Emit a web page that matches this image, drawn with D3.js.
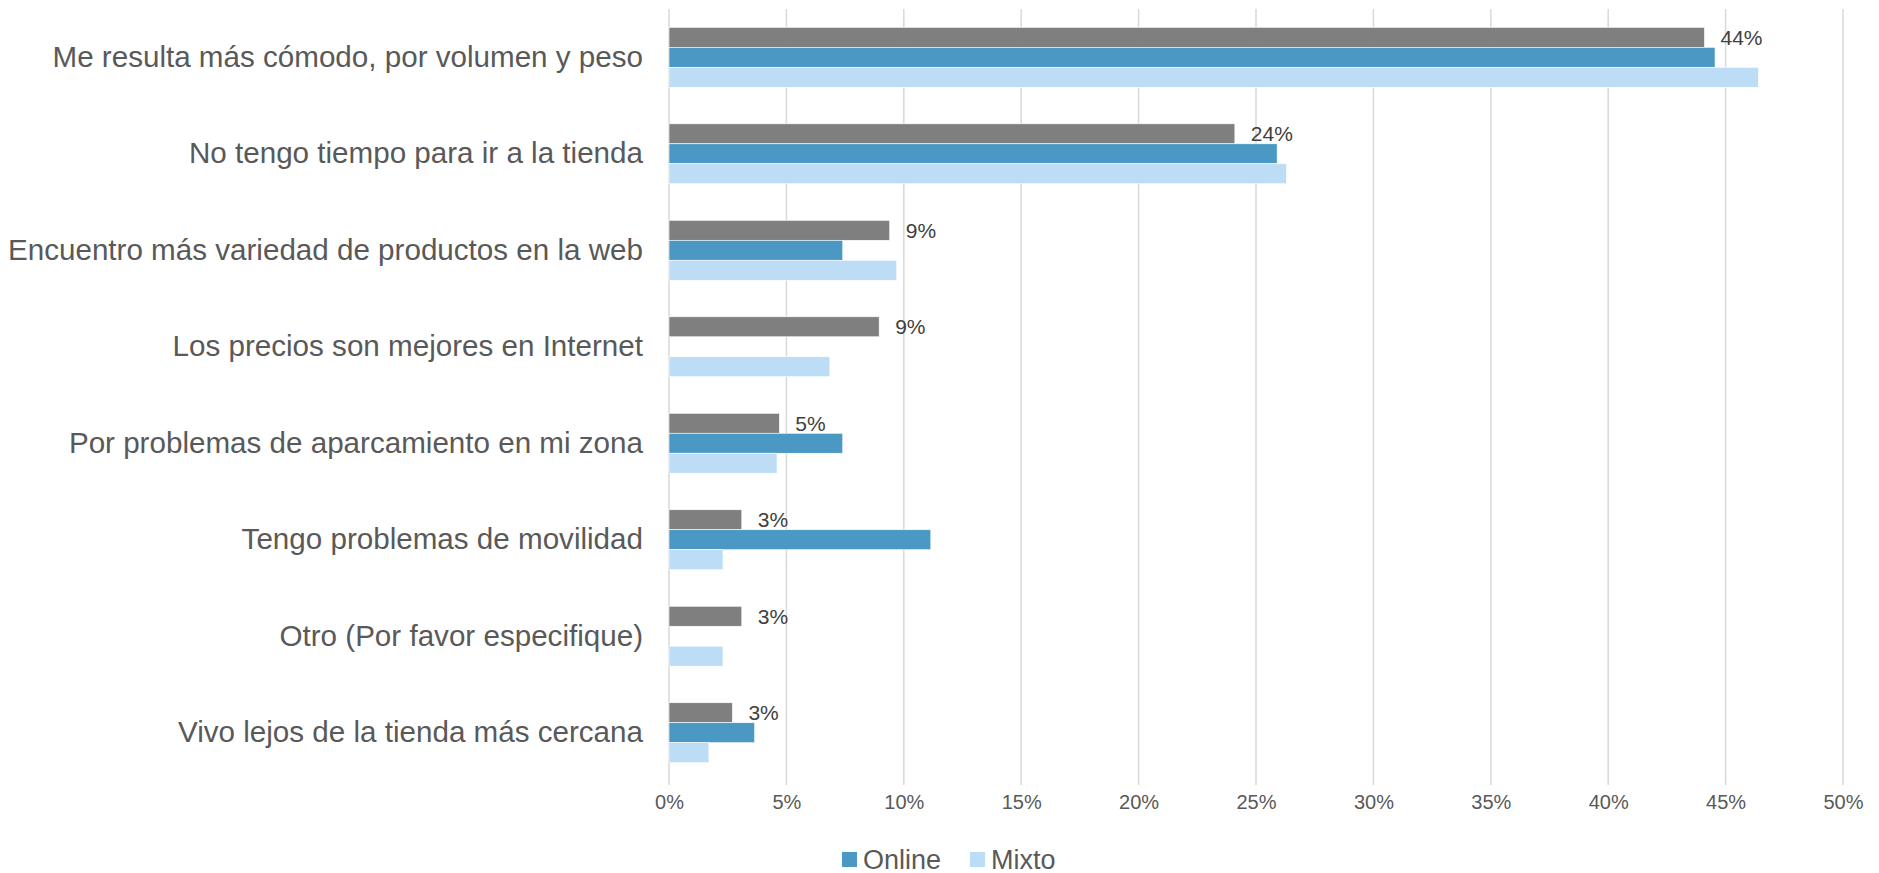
<!DOCTYPE html>
<html>
<head>
<meta charset="utf-8">
<script src="https://cdn.jsdelivr.net/npm/d3@7"></script>
<style>
  html, body { margin: 0; padding: 0; background: #fff; overflow: hidden; }
  svg { display: block; font-family: "Liberation Sans", Arial, sans-serif; }
</style>
</head>
<body>
<svg></svg>
<script>
// data (percent)
var categories = [
    "Me resulta más cómodo, por volumen y peso",
    "No tengo tiempo para ir a la tienda",
    "Encuentro más variedad de productos en la web",
    "Los precios son mejores en Internet",
    "Por problemas de aparcamiento en mi zona",
    "Tengo problemas de movilidad",
    "Otro (Por favor especifique)",
    "Vivo lejos de la tienda más cercana"
];
var total  = [44.1, 24.1, 9.4, 8.95, 4.7, 3.1, 3.1, 2.7];
var online = [44.55, 25.9, 7.4, 0, 7.4, 11.15, 0, 3.65];
var mixto  = [46.4, 26.3, 9.7, 6.85, 4.6, 2.3, 2.3, 1.7];
var xTicks = [0, 5, 10, 15, 20, 25, 30, 35, 40, 45, 50];

var seriesKeys = ["total", "online", "mixto"];
var seriesColors = { total: "#7f7f7f", online: "#4a98c3", mixto: "#bcddf5" };
var legendItems = [{ key: "online", name: "Online" }, { key: "mixto", name: "Mixto" }];

var width = 1879;
var height = 873;
var margin = { top: 9, right: 36, bottom: 92, left: 669 };
var innerWidth = width - margin.left - margin.right;
var innerHeight = height - margin.top - margin.bottom;

var rows = categories.map(function (c, i) {
    return { name: c, total: total[i], online: online[i], mixto: mixto[i] };
});

var svg = d3.select('svg')
    .attr('width', width)
    .attr('height', height);

var g = svg.append('g')
    .attr('transform', `translate(${margin.left},${margin.top})`);

var x = d3.scaleLinear().domain([0, 50]).range([0, 1174]);

var y0 = d3.scaleBand()
    .domain(categories)
    .range([0, innerHeight])
    .paddingInner(0.379)
    .paddingOuter(0.19);

var y1 = d3.scaleBand()
    .domain(seriesKeys)
    .range([0, y0.bandwidth()]);

// gridlines
g.append('g')
    .selectAll('line').data(xTicks)
    .enter().append('line')
    .attr('x1', d => x(d)).attr('x2', d => x(d))
    .attr('y1', 0).attr('y2', innerHeight + 4)
    .attr('stroke', '#d9d9d9')
    .attr('stroke-width', 1.5);

// x axis labels
var xAxis = d3.axisBottom(x)
    .tickValues(xTicks)
    .tickFormat(d => d + '%')
    .tickSize(0)
    .tickPadding(14);

var ax = g.append('g')
    .attr('transform', `translate(0,${innerHeight})`)
    .call(xAxis);
ax.select('.domain').remove();
ax.selectAll('text')
    .attr('fill', '#595959')
    .style('font-size', '20px');

// category labels
var yAxis = d3.axisLeft(y0).tickSize(0).tickPadding(26);
var ay = g.append('g').call(yAxis);
ay.select('.domain').remove();
ay.selectAll('text')
    .attr('fill', '#595959')
    .style('font-size', '29.6px');

// bars
var groups = g.append('g')
    .selectAll('g').data(rows)
    .enter().append('g')
    .attr('transform', d => `translate(0,${y0(d.name)})`);

groups.selectAll('rect')
    .data(d => seriesKeys.map(k => ({ key: k, value: d[k] })))
    .enter().append('rect')
    .attr('x', x(0))
    .attr('y', d => y1(d.key))
    .attr('width', d => x(d.value) - x(0))
    .attr('height', y1.bandwidth())
    .attr('fill', d => seriesColors[d.key])
    .attr('stroke', d => d.value > 0 ? '#fff' : 'none')
    .attr('stroke-width', 0.6);

// labels on the gray series
groups.append('text')
    .attr('x', d => x(d.total) + 16)
    .attr('y', y1('total') + y1.bandwidth() / 2)
    .attr('dy', '0.36em')
    .attr('fill', '#404040')
    .style('font-size', '21px')
    .text(d => Math.round(d.total) + '%');

// legend
var legend = svg.append('g')
    .attr('transform', 'translate(842,852)');

var li = legend.selectAll('g').data(legendItems)
    .enter().append('g')
    .attr('transform', (d, i) => `translate(${i * 128},0)`);

li.append('rect')
    .attr('width', 15).attr('height', 15)
    .attr('fill', d => seriesColors[d.key]);

li.append('text')
    .attr('x', 21)
    .attr('y', 7.5)
    .attr('dy', '0.35em')
    .attr('fill', '#595959')
    .style('font-size', '27px')
    .text(d => d.name);
</script>
</body>
</html>
